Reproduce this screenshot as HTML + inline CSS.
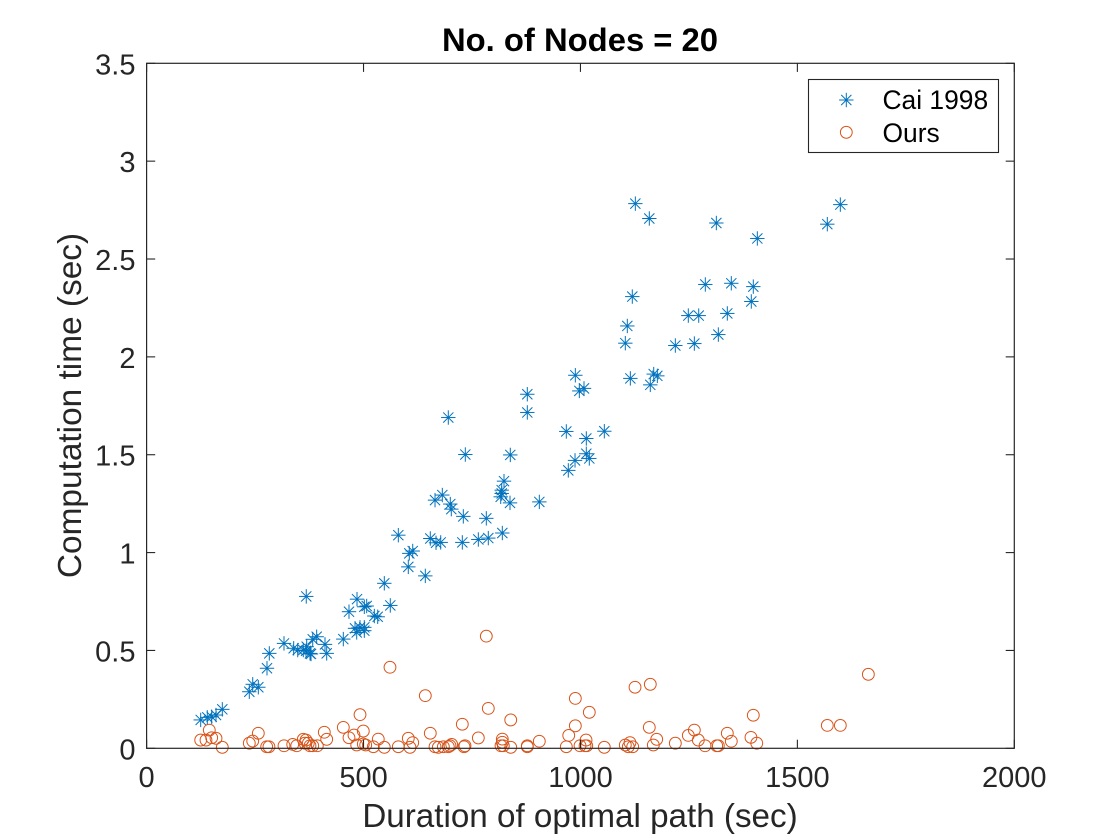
<!DOCTYPE html>
<html lang="en">
<head>
<meta charset="utf-8">
<title>No. of Nodes = 20</title>
<style>
html,body{margin:0;padding:0;background:#fff;width:1120px;height:840px;overflow:hidden}
svg{display:block}
text{font-family:"Liberation Sans",Arial,sans-serif}
</style>
</head>
<body>
<svg id="chart" xmlns="http://www.w3.org/2000/svg" width="1120" height="840" viewBox="0 0 1120 840">
  <rect x="0" y="0" width="1120" height="840" fill="#ffffff"/>
  <g id="marks"></g>
  <g id="axes"></g>
  <text x="580" y="51" text-anchor="middle" font-size="32.8" font-weight="bold" fill="#000000">No. of Nodes = 20</text>
  <text x="580" y="827" text-anchor="middle" font-size="33.2" fill="#262626">Duration of optimal path (sec)</text>
  <text transform="translate(81 405.5) rotate(-90)" text-anchor="middle" font-size="33.4" fill="#262626">Computation time (sec)</text>
  <g id="legend">
    <rect x="808.5" y="79.5" width="190" height="73" fill="#ffffff" stroke="#262626" stroke-width="1.1"/>
    <text x="882.5" y="109" font-size="26.4" fill="#000000">Cai 1998</text>
    <text x="882.5" y="142" font-size="26.4" fill="#000000">Ours</text>
  </g>
</svg>
<script>
const xTicks = [0, 500, 1000, 1500, 2000];
const yTicks = [0, 0.5, 1, 1.5, 2, 2.5, 3, 3.5];
const yTickLabels = ['0', '0.5', '1', '1.5', '2', '2.5', '3', '3.5'];
const seriesNames = ['Cai 1998', 'Ours'];

const caiX = [124.7,139.9,150,160,174.5,236.7,244.6,257.5,277.5,282.8,316.7,339,348.3,361.2,369,367.4,376.6,379,368,382.9,392,411.2,415.1,453.4,466.5,485,501.8,507.3,524.9,532.7,547.9,561.7,480.4,484.3,491.9,501.8,501.8,580.2,603.2,605.5,613.4,642.4,653.9,667.1,677.9,664.8,681.6,700,702.3,730,783,727.7,764.6,787.6,819.9,823.8,818.5,818.5,816.2,837.6,905.2,734.6,838.3,695.4,877.5,877.5,988.2,997.4,1008.2,967.4,1013.5,1055,1013.5,987.5,1020.4,972,1115,1161,1168.9,1177.2,1126.5,1158.7,1313.2,1119.5,1108,1103.4,1287.8,1347.7,1338.5,1248.6,1272.6,1317.8,1218.7,1262.5,1398.4,1393.8,1407.7,1569,1599];
const caiY = [0.145,0.158,0.161,0.17,0.199,0.289,0.327,0.312,0.409,0.485,0.536,0.511,0.502,0.502,0.519,0.498,0.485,0.482,0.776,0.557,0.57,0.531,0.485,0.558,0.698,0.762,0.723,0.727,0.676,0.672,0.843,0.73,0.613,0.592,0.618,0.618,0.601,1.089,0.927,0.996,1.008,0.881,1.072,1.05,1.052,1.268,1.294,1.248,1.222,1.185,1.175,1.052,1.067,1.074,1.1,1.365,1.319,1.302,1.285,1.254,1.259,1.501,1.499,1.69,1.809,1.716,1.906,1.826,1.839,1.619,1.583,1.62,1.505,1.471,1.481,1.42,1.89,1.857,1.912,1.903,2.783,2.707,2.684,2.308,2.158,2.07,2.37,2.376,2.222,2.211,2.211,2.114,2.058,2.068,2.359,2.283,2.605,2.678,2.778];

const oursX = [124.7,136.9,144.5,150,160,174.5,236.7,244.6,257.5,276.8,282,316.7,336.8,346,361.2,367.4,365,372.7,376.6,382.9,393.5,409.6,415.1,453.4,466.5,478,484.3,499.5,491.9,499.5,505,522.6,534,547.9,561,580.2,603.2,613.4,607.1,642.4,653.9,664.8,672.4,684,695.4,699.3,703.2,727.7,731.6,733.9,764.6,783,787.6,819.9,819.9,816.9,822.2,839.3,839.3,877.5,877.5,905.2,967.4,988.2,973,988.2,999,1012.9,1010.6,1014.5,1020.4,1055,1125.8,1161,1103.4,1114.2,1110.3,1120.4,1158.7,1175.8,1168,1218.7,1248.6,1262.5,1271.7,1287.2,1314.1,1317.8,1338.5,1347.7,1398.4,1393,1406.4,1569,1599,1663.6];
const oursY = [0.042,0.042,0.093,0.054,0.051,0.005,0.026,0.037,0.077,0.008,0.008,0.013,0.02,0.013,0.046,0.042,0.026,0.026,0.013,0.013,0.013,0.082,0.046,0.107,0.054,0.068,0.017,0.088,0.172,0.022,0.017,0.008,0.047,0.005,0.414,0.008,0.051,0.029,0.005,0.269,0.077,0.008,0.005,0.008,0.008,0.013,0.02,0.123,0.008,0.013,0.053,0.573,0.204,0.047,0.031,0.013,0.013,0.145,0.005,0.013,0.008,0.036,0.008,0.255,0.066,0.115,0.013,0.042,0.013,0.013,0.184,0.005,0.312,0.327,0.017,0.029,0.008,0.008,0.107,0.046,0.017,0.026,0.066,0.093,0.042,0.013,0.013,0.013,0.077,0.036,0.169,0.056,0.026,0.117,0.117,0.378];

const NS = 'http://www.w3.org/2000/svg';
const plotLeft = 146.6, plotRight = 1014.3, plotTop = 63.3, plotBottom = 748.3;
const xMin = 0, xMax = 2000, yMin = 0, yMax = 3.5;
const blue = '#0072BD', orange = '#D95319', axisColor = '#262626';

function xScale(v) { return plotLeft + (v - xMin) / (xMax - xMin) * (plotRight - plotLeft); }
function yScale(v) { return plotBottom - (v - yMin) / (yMax - yMin) * (plotBottom - plotTop); }

function make(tag, attrs, parent) {
  const el = document.createElementNS(NS, tag);
  for (const k in attrs) el.setAttribute(k, attrs[k]);
  parent.appendChild(el);
  return el;
}

function drawStar(parent, cx, cy) {
  const a = 7.2, d = 5.1;
  const segs = [[-a, 0, a, 0], [0, -a, 0, a], [-d, -d, d, d], [-d, d, d, -d]];
  const g = make('g', { stroke: blue, 'stroke-width': 1, fill: 'none' }, parent);
  segs.forEach(function (s) {
    make('line', { x1: cx + s[0], y1: cy + s[1], x2: cx + s[2], y2: cy + s[3] }, g);
  });
  return g;
}

function drawCircle(parent, cx, cy) {
  return make('circle', { cx: cx, cy: cy, r: 5.9, fill: 'none', stroke: orange, 'stroke-width': 1 }, parent);
}

const marks = document.getElementById('marks');
const axes = document.getElementById('axes');
const legend = document.getElementById('legend');

const caiGroup = make('g', {}, marks);


caiX.forEach(function (v, i) {
  const star = drawStar(caiGroup, xScale(v), yScale(caiY[i]));
  
  
});

const oursGroup = make('g', {}, marks);


oursX.forEach(function (v, i) {
  const dot = drawCircle(oursGroup, xScale(v), yScale(oursY[i]));
  
  
});

const frame = make('rect', { x: plotLeft, y: plotTop, width: plotRight - plotLeft, height: plotBottom - plotTop, fill: 'none', stroke: axisColor, 'stroke-width': 1.2 }, axes);



const tickLen = 8.6;
xTicks.forEach(function (t) {
  const x = xScale(t);
  const tickB = make('line', { x1: x, y1: plotBottom, x2: x, y2: plotBottom - tickLen, stroke: axisColor, 'stroke-width': 1.1 }, axes);
  
  
  const tickT = make('line', { x1: x, y1: plotTop, x2: x, y2: plotTop + tickLen, stroke: axisColor, 'stroke-width': 1.1 }, axes);
  
  
  const label = make('text', { x: x, y: 787, 'text-anchor': 'middle', 'font-size': 29, fill: axisColor }, axes);
  
  
  label.textContent = String(t);
});

yTicks.forEach(function (t, i) {
  const y = yScale(t);
  const tickL = make('line', { x1: plotLeft, y1: y, x2: plotLeft + tickLen, y2: y, stroke: axisColor, 'stroke-width': 1.1 }, axes);
  
  
  const tickR = make('line', { x1: plotRight, y1: y, x2: plotRight - tickLen, y2: y, stroke: axisColor, 'stroke-width': 1.1 }, axes);
  
  
  const label = make('text', { x: 135.5, y: y + 11, 'text-anchor': 'end', 'font-size': 29, fill: axisColor }, axes);
  
  
  label.textContent = yTickLabels[i];
});

const legendStar = drawStar(legend, 846.3, 100);


const legendDot = drawCircle(legend, 846.3, 132.3);


</script>
</body>
</html>
